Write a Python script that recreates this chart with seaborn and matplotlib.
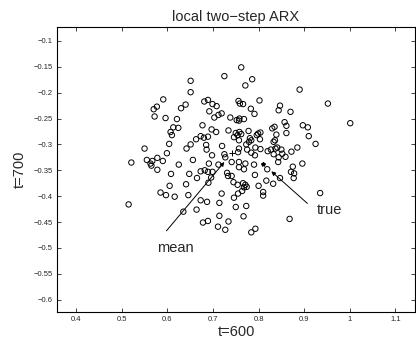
import numpy as np
import seaborn as sns
import matplotlib
matplotlib.use("Agg")
import matplotlib.pyplot as plt

# sample values at t=600 (x) and t=700 (y)
x_t600 = [
    0.651, 0.651, 0.591, 0.577, 0.570, 0.572, 0.640, 0.630, 0.681, 0.689,
    0.692, 0.596, 0.621, 0.613, 0.624, 0.607, 0.610, 0.604, 0.550, 0.599,
    0.642, 0.651, 0.663, 0.673, 0.680, 0.689, 0.677, 0.685, 0.686, 0.555,
    0.567, 0.578, 0.590, 0.521, 0.625, 0.656, 0.563, 0.762, 0.725, 0.786,
    0.771, 0.890, 0.952, 1.001, 0.699, 0.708, 0.703, 0.712, 0.719, 0.738,
    0.756, 0.759, 0.766, 0.752, 0.757, 0.758, 0.768, 0.783, 0.791, 0.802,
    0.847, 0.844, 0.870, 0.857, 0.861, 0.835, 0.830, 0.897, 0.908, 0.697,
    0.707, 0.734, 0.750, 0.758, 0.762, 0.754, 0.778, 0.799, 0.804, 0.796,
    0.746, 0.757, 0.781, 0.784, 0.779, 0.803, 0.839, 0.836, 0.833, 0.861,
    0.910, 0.925, 0.720, 0.698, 0.757, 0.755, 0.773, 0.775, 0.793, 0.804,
    0.784, 0.792, 0.820, 0.827, 0.837, 0.841, 0.850, 0.852, 0.833, 0.844,
    0.859, 0.872, 0.885, 0.896, 0.725, 0.727, 0.565, 0.578, 0.608, 0.648,
    0.605, 0.641, 0.665, 0.673, 0.682, 0.585, 0.597, 0.616, 0.646, 0.515,
    0.635, 0.673, 0.687, 0.664, 0.678, 0.689, 0.691, 0.712, 0.689, 0.699,
    0.696, 0.690, 0.741, 0.757, 0.757, 0.771, 0.768, 0.790, 0.843, 0.819,
    0.875, 0.871, 0.878, 0.877, 0.847, 0.731, 0.733, 0.741, 0.745, 0.754,
    0.766, 0.771, 0.774, 0.768, 0.792, 0.800, 0.817, 0.832, 0.764, 0.755,
    0.810, 0.810, 0.719, 0.746, 0.714, 0.750, 0.773, 0.935, 0.714, 0.734,
    0.767, 0.711, 0.727, 0.784, 0.793, 0.868,
]
y_t700 = [
    -0.177, -0.199, -0.213, -0.227, -0.232, -0.246, -0.223, -0.230, -0.217, -0.214,
    -0.236, -0.249, -0.251, -0.267, -0.268, -0.276, -0.282, -0.299, -0.308, -0.317,
    -0.308, -0.300, -0.290, -0.284, -0.287, -0.285, -0.263, -0.301, -0.310, -0.330,
    -0.332, -0.326, -0.332, -0.335, -0.339, -0.330, -0.337, -0.151, -0.168, -0.174,
    -0.186, -0.194, -0.221, -0.259, -0.222, -0.226, -0.248, -0.243, -0.240, -0.248,
    -0.216, -0.221, -0.222, -0.253, -0.254, -0.250, -0.251, -0.231, -0.241, -0.215,
    -0.225, -0.234, -0.237, -0.257, -0.264, -0.266, -0.269, -0.263, -0.267, -0.271,
    -0.276, -0.273, -0.278, -0.276, -0.280, -0.282, -0.274, -0.279, -0.277, -0.282,
    -0.286, -0.292, -0.288, -0.292, -0.295, -0.290, -0.281, -0.292, -0.295, -0.278,
    -0.284, -0.299, -0.303, -0.321, -0.308, -0.315, -0.300, -0.310, -0.306, -0.309,
    -0.316, -0.321, -0.313, -0.310, -0.308, -0.306, -0.310, -0.318, -0.319, -0.325,
    -0.324, -0.314, -0.306, -0.337, -0.319, -0.325, -0.341, -0.349, -0.357, -0.357,
    -0.380, -0.377, -0.365, -0.352, -0.350, -0.393, -0.398, -0.401, -0.398, -0.416,
    -0.430, -0.408, -0.411, -0.426, -0.451, -0.448, -0.337, -0.339, -0.353, -0.353,
    -0.364, -0.374, -0.334, -0.334, -0.344, -0.337, -0.348, -0.339, -0.334, -0.348,
    -0.343, -0.353, -0.356, -0.365, -0.365, -0.355, -0.361, -0.361, -0.373, -0.378,
    -0.375, -0.378, -0.382, -0.383, -0.359, -0.380, -0.370, -0.376, -0.390, -0.395,
    -0.392, -0.399, -0.395, -0.403, -0.413, -0.421, -0.419, -0.394, -0.438, -0.449,
    -0.439, -0.459, -0.465, -0.470, -0.463, -0.444,
]

mean_pt = (0.741, -0.316)
true_pt = (0.809, -0.337)

x_ticks = [0.4, 0.5, 0.6, 0.7, 0.8, 0.9, 1.0, 1.1]
x_ticklabels = ["0.4", "0.5", "0.6", "0.7", "0.8", "0.9", "1", "1.1"]
y_ticks = [-0.1, -0.15, -0.2, -0.25, -0.3, -0.35, -0.4, -0.45, -0.5, -0.55, -0.6]
y_ticklabels = ["\u22120.1", "\u22120.15", "\u22120.2", "\u22120.25", "\u22120.3", "\u22120.35",
                "\u22120.4", "\u22120.45", "\u22120.5", "\u22120.55", "\u22120.6"]

sns.set_style("ticks")
plt.rcParams["font.family"] = ["Liberation Sans", "DejaVu Sans"]
plt.rcParams.update({
    "xtick.direction": "in",
    "ytick.direction": "in",
    "xtick.top": True,
    "ytick.right": True,
    "xtick.major.size": 3,
    "ytick.major.size": 3,
    "xtick.major.width": 0.6,
    "ytick.major.width": 0.6,
})

fig = plt.figure(figsize=(4.16, 3.49), dpi=100)
ax = fig.add_axes([57 / 416, 37.5 / 349, 358 / 416, 284.5 / 349])

sns.scatterplot(x=x_t600, y=y_t700, ax=ax, marker="o", s=15,
                facecolors="none", edgecolors="black", linewidth=0.7)

# mean and true markers
ax.plot([mean_pt[0]], [mean_pt[1]], marker="+", color="black", ms=4, mew=0.7)
ax.plot([true_pt[0]], [true_pt[1]], marker="*", color="black", ms=3)

arrow = dict(arrowstyle="-|>", lw=0.7, color="black", mutation_scale=6,
             shrinkA=0, shrinkB=0)
ax.annotate("", xy=(0.725, -0.334), xytext=(0.598, -0.467), arrowprops=arrow)
ax.annotate("", xy=(0.828, -0.352), xytext=(0.907, -0.414), arrowprops=arrow)
ax.text(0.618, -0.500, "mean", fontsize=10.5, ha="center", va="center")
ax.text(0.928, -0.427, "true", fontsize=10.5, ha="left", va="center")

ax.set_xlim(0.358, 1.143)
ax.set_ylim(-0.623, -0.073)
ax.set_xticks(x_ticks)
ax.set_xticklabels(x_ticklabels)
ax.set_yticks(y_ticks)
ax.set_yticklabels(y_ticklabels)
ax.tick_params(labelsize=5.5, pad=3)
for spine in ax.spines.values():
    spine.set_visible(True)
    spine.set_linewidth(0.8)
    spine.set_color("black")

ax.set_title("local two\u2212step ARX", fontsize=10.5, pad=4)
ax.set_xlabel("t=600", fontsize=10.5, labelpad=2)
ax.set_ylabel("t=700", fontsize=10.5, labelpad=5)

fig.savefig("out.png", dpi=100, facecolor="white")
